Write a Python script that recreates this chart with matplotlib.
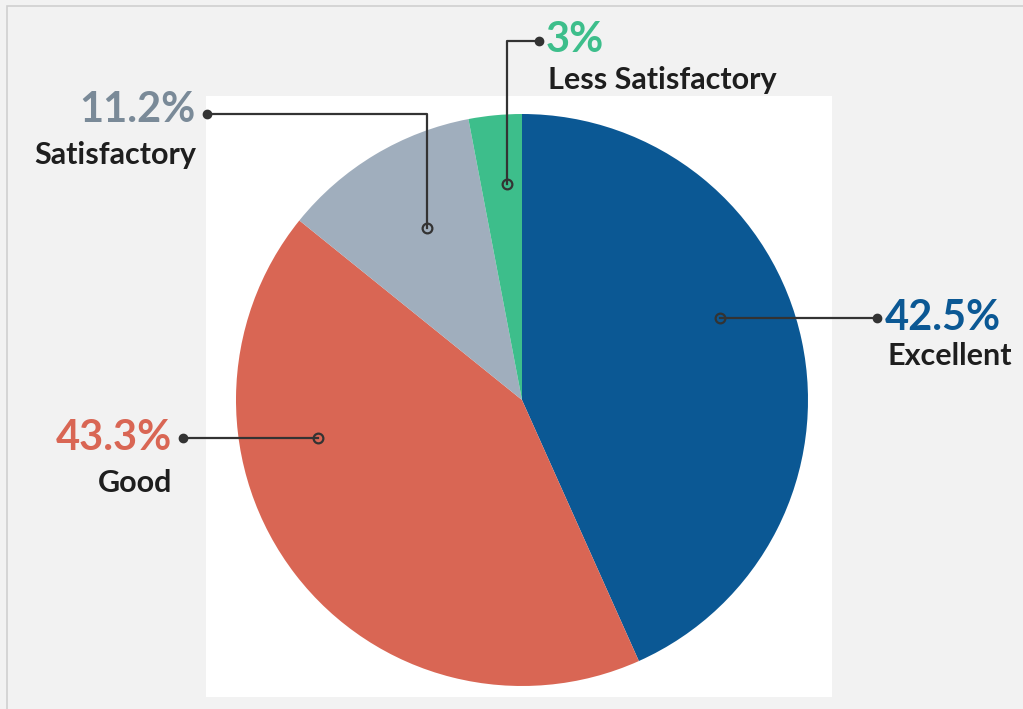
import matplotlib
matplotlib.use("Agg")
import matplotlib.pyplot as plt
from matplotlib.patches import Rectangle

categories = ['Excellent', 'Good', 'Satisfactory', 'Less Satisfactory']
# wedge sizes as drawn in the picture (blue wedge is the slightly larger one)
shares = [43.3, 42.5, 11.2, 3]
pct_labels = ['42.5%', '43.3%', '11.2%', '3%']
colors = ['#0b5894', '#d96654', '#a0aebd', '#3dbe8b']
pct_colors = ['#0b5894', '#d96654', '#7a8a98', '#3dbe8b']

W, H = 1023, 709
CX, CY, R = 522, 400, 286

# leader line paths in pixel coords (open circle -> dot), text anchor, alignment, label drop
leaders = {
    'Excellent': dict(path=[(720, 318), (877, 318)], text=(885, 318), ha='left', drop=38),
    'Good': dict(path=[(318, 438), (183, 438)], text=(172, 438), ha='right', drop=45),
    'Satisfactory': dict(path=[(427, 228), (427, 114), (207, 114)], text=(196, 110), ha='right', drop=45),
    'Less Satisfactory': dict(path=[(507, 184), (507, 41), (539, 41)], text=(546, 40), ha='left', drop=40),
}

fig = plt.figure(figsize=(W / 100, H / 100), dpi=100, facecolor='#f2f2f2')
ax = fig.add_axes([0, 0, 1, 1])

def fy(y):
    return H - y

# outer border and white plot area
ax.add_patch(Rectangle((7, fy(H + 5)), W + 10, H - 1, fill=False, edgecolor='#d0d0d0', lw=1.2))
ax.add_patch(Rectangle((206, fy(697)), 626, 601, facecolor='white', edgecolor='none', zorder=0))

ax.pie(shares, colors=colors, startangle=90, counterclock=False,
       center=(CX, fy(CY)), radius=R, wedgeprops=dict(linewidth=0))
ax.set_xlim(0, W)
ax.set_ylim(0, H)
ax.set_aspect('equal')
ax.axis('off')

for cat, pct, pc in zip(categories, pct_labels, pct_colors):
    lay = leaders[cat]
    xs = [p[0] for p in lay['path']]
    ys = [fy(p[1]) for p in lay['path']]
    ax.plot(xs, ys, color='#333333', lw=1.6, zorder=3)
    ax.plot(xs[0], ys[0], 'o', ms=7, mfc='none', mec='#333333', mew=1.6, zorder=4)
    ax.plot(xs[-1], ys[-1], 'o', ms=6, color='#333333', zorder=4)
    tx, ty = lay['text']
    ax.text(tx, fy(ty), pct, ha=lay['ha'], va='center', color=pc,
            fontsize=30, fontfamily='Lato', fontweight='bold', zorder=5)
    ax.text(tx + (2 if lay['ha'] == 'left' else 0), fy(ty) - lay['drop'], cat, ha=lay['ha'],
            va='center', color='#1e1e1e', fontsize=22, fontfamily='Lato', fontweight='bold', zorder=5)

fig.savefig('out.png', dpi=100, facecolor=fig.get_facecolor())
